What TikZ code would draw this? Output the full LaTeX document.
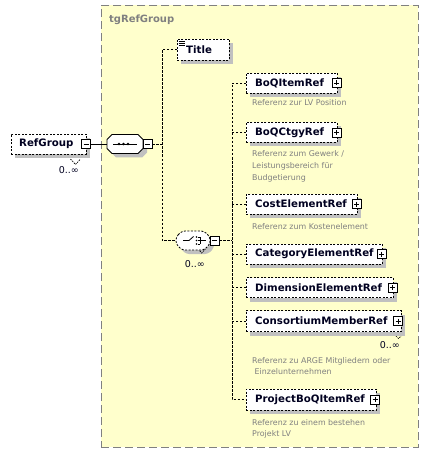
\documentclass[tikz,border=0pt]{standalone}
\usepackage{fontspec}
\setmainfont{DejaVu Sans}
\definecolor{grpfill}{RGB}{255,255,204}
\definecolor{grpline}{RGB}{128,128,128}
\definecolor{desccol}{RGB}{128,128,128}
\definecolor{shadowgrey}{RGB}{192,192,192}
\definecolor{ink}{RGB}{0,0,32}
\begin{document}
\begin{tikzpicture}[x=1pt,y=-1pt,
  shad/.style={preaction={fill=shadowgrey,draw=none,transform canvas={xshift=4pt,yshift=-4pt}}},
  elem/.style={draw=black,line width=0.8pt,dash pattern=on 2pt off 1.5pt,fill=white,shad,inner sep=0,minimum height=20pt,anchor=west},
  lbl/.style={font=\fontsize{10.2}{12}\selectfont\bfseries,text=ink,inner sep=0,anchor=west},
  dsc/.style={font=\fontsize{7.9}{11}\selectfont,text=desccol,inner sep=0,anchor=base west},
  mult/.style={font=\fontsize{9.5}{11}\selectfont,text=ink,inner sep=0,anchor=base east},
  conn/.style={draw=black,line width=0.8pt,dash pattern=on 2.5pt off 1.5pt},
  notch/.style={draw=black,line width=0.7pt,dash pattern=on 1.5pt off 1pt},
  pm/.style={draw=black,solid,fill=white,minimum size=9pt,inner sep=0,line width=0.6pt},
  plusbox/.style={pm,path picture={
     \draw[line width=0.6pt] ([xshift=2pt]path picture bounding box.west) -- ([xshift=-2pt]path picture bounding box.east);
     \draw[line width=0.6pt] ([yshift=-2pt]path picture bounding box.north) -- ([yshift=2pt]path picture bounding box.south);}},
  minusbox/.style={pm,path picture={
     \draw[line width=0.6pt] ([xshift=2pt]path picture bounding box.west) -- ([xshift=-2pt]path picture bounding box.east);}},
  anchorbox/.style={draw=none,inner sep=0},
]
\useasboundingbox (0,0) rectangle (430,457);
\fill[white] (0,0) rectangle (430,457);

% group box
\node[draw=grpline,fill=grpfill,line width=0.8pt,dash pattern=on 8pt off 4pt,minimum width=317pt,minimum height=442pt,anchor=north west,inner sep=0] (grp) at (101,5) {};
\node[font=\fontsize{10}{12}\selectfont\bfseries,text=grpline,inner sep=0,anchor=west] (grplbl) at (109,20) {tgRefGroup};

% RefGroup element
\draw[notch] (70.5,159) -- (75.5,164.5) -- (80.5,159);
\node[elem,minimum width=75pt] (rg) at (11,144) {};
\node[lbl] (rgl) at (19,144) {RefGroup};
\node[minusbox] (rgm) at (86,144) {};
\node[mult] (rgmult) at (79,173) {0..∞};

% sequence
\fill[shadowgrey,shift={(4,4)}] (107,139.5) -- (112,134.5) -- (138,134.5) -- (143,139.5) -- (143,148.5) -- (138,153.5) -- (112,153.5) -- (107,148.5) -- cycle;
\draw[line width=0.8pt,fill=white] (107,139.5) -- (112,134.5) -- (138,134.5) -- (143,139.5) -- (143,148.5) -- (138,153.5) -- (112,153.5) -- (107,148.5) -- cycle;
\node[anchorbox,minimum width=36pt,minimum height=19pt] (seq) at (125,144) {};
\draw[line width=0.8pt] (113,144) -- (137,144);
\foreach \xx in {119,123.5,128} \fill (\xx,144) circle (1.4pt);
\node[minusbox] (seqm) at (147.5,144) {};
\draw[line width=0.8pt] (rgm.east) -- (seq.west);
\coordinate (j1) at (162,144);
\draw[conn] (seqm.east) -- (j1);

% Title
\node[elem,minimum width=52pt,minimum height=21pt] (title) at (177,49.5) {};
\node[lbl] (titlel) at (186,49.5) {Title};
\foreach \yy/\xa in {41/179,43/178.5,45/178.5} \draw[line width=0.6pt] (\xa,\yy) -- (184.5,\yy);

% choice
\fill[shadowgrey,shift={(4,4)},rounded corners=3pt] (176,237) -- (182,231) -- (204,231) -- (210,237) -- (210,244) -- (204,250) -- (182,250) -- (176,244) -- cycle;
\draw[notch] (198,249) -- (201.7,253) -- (205.4,249);
\draw[line width=0.8pt,dash pattern=on 2pt off 1.5pt,fill=white,rounded corners=3pt] (176,237) -- (182,231) -- (204,231) -- (210,237) -- (210,244) -- (204,250) -- (182,250) -- (176,244) -- cycle;
\node[anchorbox,minimum width=34pt,minimum height=19pt] (ch) at (193,240.5) {};
\draw[line width=0.8pt] (183,240.5) -- (189,240.5) -- (193.5,236.5);
\foreach \yy in {237,240.5,244} {\fill (196.5,\yy) circle (0.9pt); \draw[line width=0.7pt] (197.5,\yy) -- (200,\yy);}
\draw[line width=0.7pt] (200,237) -- (200,244);
\draw[line width=0.8pt] (200,240.5) -- (206,240.5);
\node[minusbox] (chm) at (214.5,240.5) {};
\node[mult] (chmult) at (205,267) {0..∞};
\draw[conn] (title.west) -- ++(-15,0) |- (ch.west);
\coordinate (j2) at (232,240.5);
\draw[conn] (chm.east) -- (j2);

% children
\node[elem,minimum width=91pt] (boq) at (246,83) {};
\node[lbl] at (255,83) {BoQItemRef};
\node[plusbox] (boqp) at (336.5,83) {};
\node[dsc] at (252,106) {Referenz zur LV Position};

\node[elem,minimum width=91pt] (ctg) at (246,132.5) {};
\node[lbl] at (255,132.5) {BoQCtgyRef};
\node[plusbox] (ctgp) at (336.5,132.5) {};
\node[dsc] at (252,157) {Referenz zum Gewerk /};
\node[dsc] at (252,168.5) {Leistungsbereich für};
\node[dsc] at (252,180) {Budgetierung};

\node[elem,minimum width=111pt] (cost) at (246,204) {};
\node[lbl] at (255,204) {CostElementRef};
\node[plusbox] (costp) at (356.5,204) {};
\node[dsc] at (252,229) {Referenz zum Kostenelement};

\node[elem,minimum width=136pt] (cat) at (246,254) {};
\node[lbl] at (255,254) {CategoryElementRef};
\node[plusbox] (catp) at (381.5,254) {};

\node[elem,minimum width=147pt] (dim) at (246,287.5) {};
\node[lbl] at (255,287.5) {DimensionElementRef};
\node[plusbox] (dimp) at (392.5,287.5) {};

\draw[notch] (394,334) -- (398.5,338.5) -- (403,334);
\node[elem,minimum width=155pt,minimum height=21pt] (cons) at (246,321) {};
\node[lbl] at (255,321) {ConsortiumMemberRef};
\node[plusbox] (consp) at (398,321) {};
\node[mult] (consmult) at (400,348) {0..∞};
\node[dsc] at (252,363.5) {Referenz zu ARGE Mitgliedern oder};
\node[dsc] at (252,374.5) {\ Einzelunternehmen};

\node[elem,minimum width=130pt,minimum height=21pt] (proj) at (246,399.5) {};
\node[lbl] at (255,399.5) {ProjectBoQItemRef};
\node[plusbox] (projp) at (375,399.5) {};
\node[dsc] at (252,425) {Referenz zu einem bestehen};
\node[dsc] at (252,436) {Projekt LV};

\draw[conn] (boq.west) -- ++(-14,0) |- (proj.west);
\foreach \n in {ctg,cost,cat,dim,cons} \draw[conn] (\n.west) -- ++(-14,0);
\end{tikzpicture}
\end{document}
